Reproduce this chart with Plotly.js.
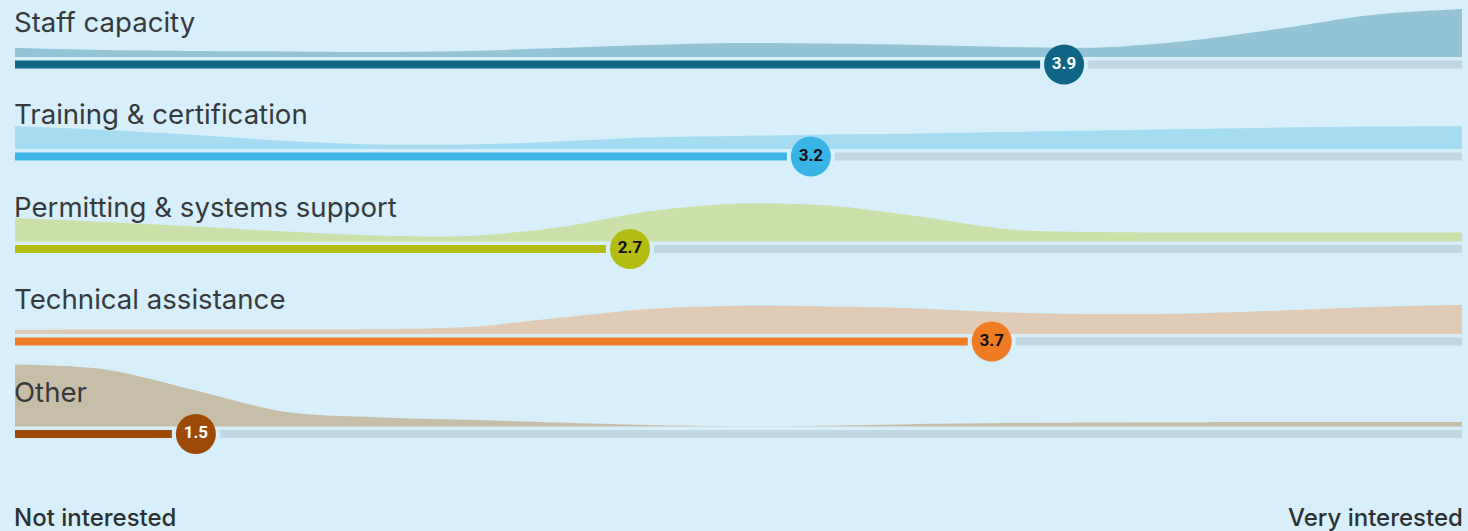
<!DOCTYPE html>
<html>
<head>
<meta charset="utf-8">
<script src="https://cdn.plot.ly/plotly-3.0.1.min.js"></script>
<style>html,body{margin:0;padding:0;background:#d6effa;}#chart{width:1468px;height:531px;}</style>
</head>
<body>
<div id="chart"></div>
<script>
// ---- data ----
const scalePoints = [1, 1.25, 1.5, 1.75, 2, 2.25, 2.5, 2.75, 3, 3.25, 3.5, 3.75, 4, 4.25, 4.5, 4.75, 5];
const categories = ["Staff capacity", "Training & certification", "Permitting & systems support", "Technical assistance", "Other"];
const meanScores = [3.9, 3.2, 2.7, 3.7, 1.5];
const staffDensity      = [9, 7, 6, 5.5, 5, 6, 9, 12, 14, 13.5, 12, 10, 9.5, 16.5, 28.5, 42, 48];
const trainingDensity   = [23, 19, 14, 8, 4.5, 4.5, 7.5, 11.5, 13, 14.5, 15.5, 17, 18.5, 20, 21.5, 22.5, 23];
const permittingDensity = [23.5, 19.5, 15, 10, 6, 5.5, 14, 30, 38, 36, 25, 12, 9.5, 9, 9, 9, 9];
const technicalDensity  = [4.3, 4.5, 4.5, 4.5, 4.7, 7, 16, 25, 28.3, 27.5, 25.5, 21.5, 20, 20.5, 23.5, 27, 29];
const otherDensity      = [62, 57, 36, 14.5, 9.3, 6.7, 4, 1.5, 0.3, 0.8, 2.5, 3.5, 4, 4.2, 4.4, 4.4, 4.4];
const scaleLabels = ["Not interested", "Very interested"];

// ---- style ----
const densities = [staffDensity, trainingDensity, permittingDensity, technicalDensity, otherDensity];
const areaColors = ["#93c3d5", "#a5dcf2", "#cce0aa", "#e2cbb5", "#c7bea8"];
const barColors  = ["#0f6585", "#38b5e6", "#b3bc10", "#ef7b22", "#9c4a06"];
const valueTextColors = ["#ffffff", "#111111", "#111111", "#111111", "#ffffff"];
const trackColor = "#bfd8e3";
const bg = "#d6effa";
const H = 531;
const plotWidthPx = 1468 - 15 - 6;
const gap = 24 / (plotWidthPx / 4); // visual gap between bar end and marker centre
const rowTopPx = [57, 149, 241.5, 334, 426.5]; // area baselines in px from top

const traces = [];
const annotations = [];
categories.forEach((cat, i) => {
  const base = H - rowTopPx[i];
  traces.push({x: [scalePoints[0], scalePoints[scalePoints.length - 1]], y: [base, base], mode: 'lines',
    line: {width: 0, color: 'rgba(0,0,0,0)'}, hoverinfo: 'skip', showlegend: false});
  traces.push({x: scalePoints, y: densities[i].map(d => base + d), mode: 'lines', fill: 'tonexty',
    fillcolor: areaColors[i], line: {width: 0, shape: 'spline', smoothing: 0.9, color: areaColors[i]},
    hoverinfo: 'skip', showlegend: false});
  const barY = base - 7.5;
  traces.push({x: [meanScores[i] + gap, 5], y: [barY, barY], mode: 'lines',
    line: {width: 8, color: trackColor}, hoverinfo: 'skip', showlegend: false});
  traces.push({x: [1, meanScores[i] - gap], y: [barY, barY], mode: 'lines',
    line: {width: 8, color: barColors[i]}, hoverinfo: 'skip', showlegend: false});
  traces.push({x: [meanScores[i]], y: [barY], mode: 'markers+text', text: [meanScores[i].toFixed(1)],
    textposition: 'middle center',
    textfont: {family: 'Roboto, Arial, sans-serif', size: 17, weight: 700, color: valueTextColors[i]},
    marker: {size: 40, color: barColors[i], line: {width: 0}},
    hoverinfo: 'skip', showlegend: false, cliponaxis: false});
  annotations.push({x: 0, xref: 'paper', xanchor: 'left', xshift: -3, y: base + 35, yref: 'y', yanchor: 'middle',
    text: cat, showarrow: false, font: {family: 'Inter, sans-serif', size: 27.6, color: '#363a3d'}});
});

annotations.push({x: 0, xref: 'paper', xanchor: 'left', xshift: -3, y: H - 517, yref: 'y', yanchor: 'middle', text: scaleLabels[0],
  showarrow: false, font: {family: 'Inter, sans-serif', size: 24, weight: 500, color: '#2d3134'}});
annotations.push({x: 1, xref: 'paper', xanchor: 'right', xshift: 3, y: H - 517, yref: 'y', yanchor: 'middle', text: scaleLabels[1],
  showarrow: false, font: {family: 'Inter, sans-serif', size: 24, weight: 500, color: '#2d3134'}});

const layout = {
  width: 1468, height: 531,
  margin: {l: 15, r: 6, t: 0, b: 0, pad: 0},
  paper_bgcolor: bg, plot_bgcolor: bg,
  xaxis: {range: [1, 5], visible: false, fixedrange: true},
  yaxis: {range: [0, H], visible: false, fixedrange: true},
  annotations: annotations,
  showlegend: false
};
Plotly.newPlot('chart', traces, layout, {displayModeBar: false, staticPlot: true});
</script>
</body>
</html>
